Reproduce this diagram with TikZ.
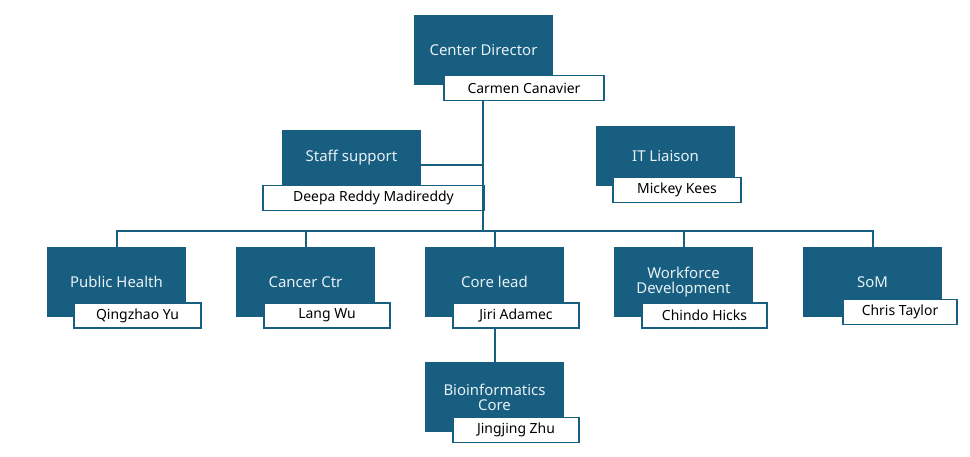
\documentclass[tikz,border=0pt]{standalone}
\usepackage{fontspec}
\setmainfont{Noto Sans}
\definecolor{teal}{RGB}{24,94,128}
\definecolor{pale}{RGB}{232,241,246}
\tikzset{
  box/.style={fill=teal, text=pale, minimum width=139bp, align=center, inner sep=0pt, font=\fontsize{15}{17}\selectfont},
  who/.style={draw=teal, line width=1.5bp, fill=white, minimum height=25bp, inner sep=0pt, font=\fontsize{14}{16}\selectfont},
  link/.style={draw=teal, line width=2bp}
}
\begin{document}
\begin{tikzpicture}[x=1bp,y=-1bp]
\useasboundingbox (0,0) rectangle (970,457);

% top
\node[box, minimum height=70bp] (cd) at (483.5,50) {Center Director};
\node[who, minimum width=160bp] (cdn) at (524,88) {Carmen Canavier};
\node[box, minimum height=55bp] (ss) at (351.5,158) {Staff support};
\node[who, minimum width=221bp] (ssn) at (373.5,198) {Deepa Reddy Madireddy};
\node[box, minimum height=60bp] (it) at (665.5,156) {IT Liaison};
\node[who, minimum width=128bp] (itn) at (677,190) {Mickey Kees};

% row
\coordinate (bus) at (483,231);
\node[box, minimum height=70bp] (ph) at (116.5,282) {Public Health};
\node[box, minimum height=70bp] (cc) at (305.5,282) {Cancer Ctr};
\node[box, minimum height=70bp] (cl) at (494.5,282) {Core lead};
\node[box, minimum height=70bp] (wd) at (683.5,282) {Workforce\\[-2bp]Development};
\node[box, minimum height=70bp] (som) at (872.5,282) {SoM};
\node[who, minimum width=127bp] (phn) at (137.5,315.5) {Qingzhao Yu};
\node[who, minimum width=126bp] (ccn) at (327,315.5) {Lang Wu};
\node[who, minimum width=126bp] (cln) at (516,315.5) {Jiri Adamec};
\node[who, minimum width=125bp] (wdn) at (704.5,315.5) {Chindo Hicks};
\node[who, minimum width=114bp] (somn) at (900,312) {Chris Taylor};
\node[box, minimum height=70bp] (bc) at (494.5,397) {Bioinformatics\\[-2bp]Core};
\node[who, minimum width=126bp] (bcn) at (516,430) {Jingjing Zhu};

% connectors
\draw[link] (cdn.south -| bus) -- (bus);
\draw[link] (ss.east |- 0,165) -- (483,165);
\draw[link] (ph.north) |- (bus) -| (som.north);
\draw[link] (cc.north) -- (cc.north |- bus);
\draw[link] (cl.north) -- (cl.north |- bus);
\draw[link] (wd.north) -- (wd.north |- bus);
\draw[link] (cln.south -| cl) -- (bc.north);
\end{tikzpicture}
\end{document}
